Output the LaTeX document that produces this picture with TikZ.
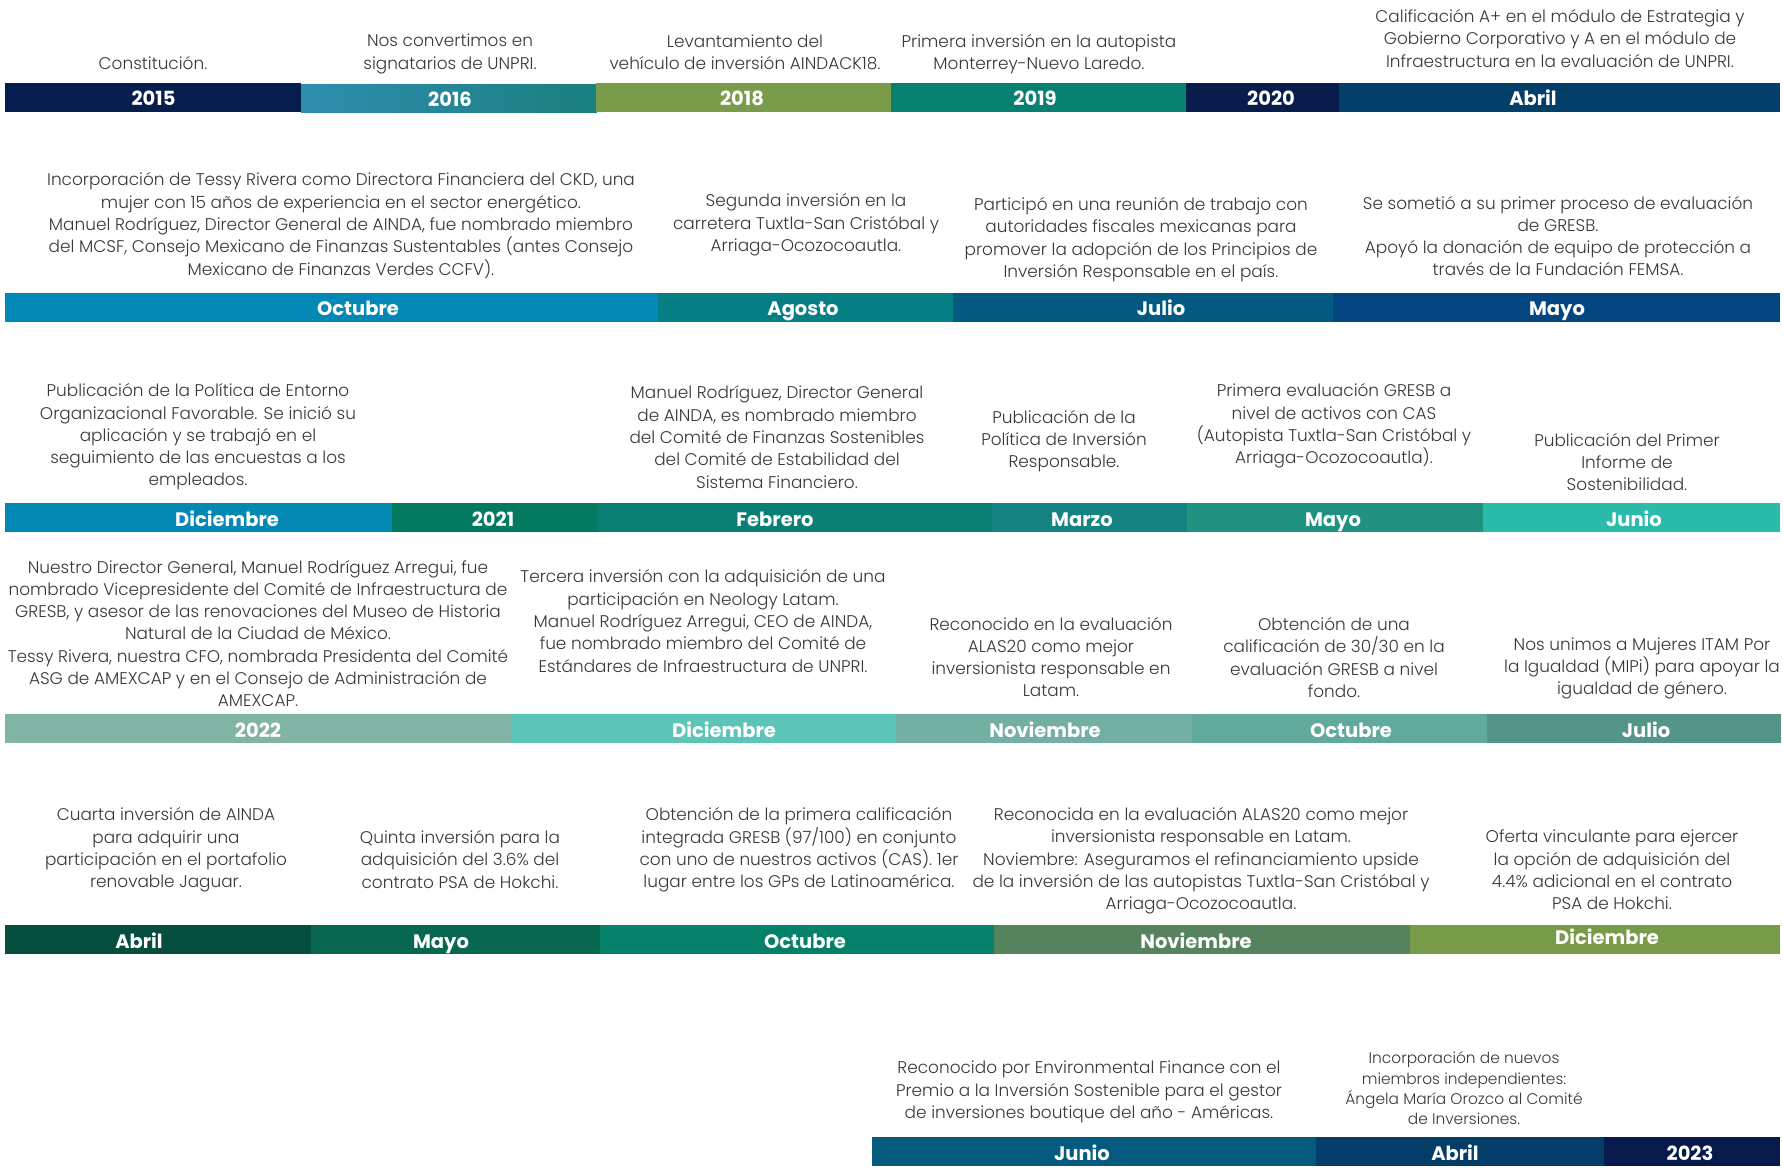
\documentclass[tikz,border=0pt]{standalone}
\usepackage{fontspec}
\setmainfont{Poppins Light}
\newfontfamily\labfont{Poppins Bold}
\definecolor{txt}{HTML}{383838}
\definecolor{cA}{HTML}{061E4D}
\definecolor{cBa}{HTML}{2F8DAF}
\definecolor{cBb}{HTML}{1A7F7E}
\definecolor{cC}{HTML}{7A9B4A}
\definecolor{cD}{HTML}{08806F}
\definecolor{cE}{HTML}{071C4B}
\definecolor{cF}{HTML}{043F6A}
\definecolor{rOct}{HTML}{0388B5}
\definecolor{rAgo}{HTML}{067F84}
\definecolor{rJul}{HTML}{03597F}
\definecolor{rMay}{HTML}{034581}
\definecolor{sDic}{HTML}{0388B4}
\definecolor{sVI}{HTML}{03795F}
\definecolor{sFeb}{HTML}{097F74}
\definecolor{sMar}{HTML}{148381}
\definecolor{sMay}{HTML}{219280}
\definecolor{sJun}{HTML}{2BBBAB}
\definecolor{uVII}{HTML}{82B4A6}
\definecolor{uDic}{HTML}{5DC5B8}
\definecolor{uNov}{HTML}{74B0A1}
\definecolor{uOct}{HTML}{62AA9B}
\definecolor{uJul}{HTML}{539586}
\definecolor{vAbr}{HTML}{054D3C}
\definecolor{vMay}{HTML}{08684F}
\definecolor{vOct}{HTML}{05816A}
\definecolor{vNov}{HTML}{55835D}
\definecolor{vDic}{HTML}{789B49}
\definecolor{wJun}{HTML}{045B7F}
\definecolor{wAbr}{HTML}{033E68}
\definecolor{wIII}{HTML}{071A4B}
\tikzset{
  barseg/.style={rectangle, inner sep=0pt, outer sep=0pt, minimum height=29pt},
  barlab/.style={anchor=base, inner sep=0pt, text=white,
    font=\labfont\fontsize{19.5}{22}\selectfont},
  evtext/.style={align=center, inner sep=0pt, text=txt,
    font=\fontsize{16.9}{22.3}\selectfont},
  evsmall/.style={align=center, inner sep=0pt, text=txt,
    font=\fontsize{15.4}{20.3}\selectfont}
}
\begin{document}
\begin{tikzpicture}[x=1pt,y=-1pt]
\useasboundingbox[fill=white] (0,0) rectangle (1783,1169);
% ---------- Row 1 ----------
\node[barseg, fill=cA, minimum width=296pt] (b1a) at (153,97.5) {};
\foreach \i in {0,...,58} {
  \pgfmathsetmacro{\pct}{\i*100/58}
  \fill[cBb!\pct!cBa] (301+5*\i,84.5) rectangle (306.6+5*\i,113.5);
}
\coordinate (b1b) at (448.5,99);
\node[barseg, fill=cC, minimum width=295pt] (b1c) at (743.5,97.5) {};
\node[barseg, fill=cD, minimum width=295pt] (b1d) at (1038.5,97.5) {};
\node[barseg, fill=cE, minimum width=153pt] (b1e) at (1262.5,97.5) {};
\node[barseg, fill=cF, minimum width=441pt] (b1f) at (1559.5,97.5) {};
\node[barlab] (l1a) at (153.5,106) {2015};
\node[barlab] (l1b) at (450,107) {2016};
\node[barlab] (l1c) at (742,106) {2018};
\node[barlab] (l1d) at (1035,106) {2019};
\node[barlab] (l1e) at (1271,106) {2020};
\node[barlab] (l1f) at (1533,106) {Abril};
\node[evtext] (t1a) at (153,63.5) {Constitución.};
\node[evtext] (t1b) at (450,54) {Nos convertimos en\\signatarios de UNPRI.};
\node[evtext] (t1c) at (745,52) {Levantamiento del\\vehículo de inversión AINDACK18.};
\node[evtext] (t1d) at (1039,54) {Primera inversión en la autopista\\Monterrey-Nuevo Laredo.};
\node[evtext] (t1f) at (1560,38.5) {Calificación A+ en el módulo de Estrategia y\\Gobierno Corporativo y A en el módulo de\\Infraestructura en la evaluación de UNPRI.};
% ---------- Row 2 ----------
\node[barseg, fill=rOct, minimum width=653pt] (b2a) at (331.5,307.5) {};
\node[barseg, fill=rAgo, minimum width=295pt] (b2b) at (805.5,307.5) {};
\node[barseg, fill=rJul, minimum width=380pt] (b2c) at (1143,307.5) {};
\node[barseg, fill=rMay, minimum width=447pt] (b2d) at (1556.5,307.5) {};
\node[barlab] (l2a) at (358,315) {Octubre};
\node[barlab] (l2b) at (803,315) {Agosto};
\node[barlab] (l2c) at (1161,315) {Julio};
\node[barlab] (l2d) at (1557,315) {Mayo};
\node[evtext] (t2a) at (341,225.5) {Incorporación de Tessy Rivera como Directora Financiera del CKD, una\\mujer con 15 años de experiencia en el sector energético.\\Manuel Rodríguez, Director General de AINDA, fue nombrado miembro\\del MCSF, Consejo Mexicano de Finanzas Sustentables (antes Consejo\\Mexicano de Finanzas Verdes CCFV).};
\node[evtext] (t2b) at (806,225) {Segunda inversión en la\\carretera Tuxtla-San Cristóbal y\\Arriaga-Ocozocoautla.};
\node[evtext] (t2c) at (1141,239.5) {Participó en una reunión de trabajo con\\autoridades fiscales mexicanas para\\promover la adopción de los Principios de\\Inversión Responsable en el país.};
\node[evtext] (t2d) at (1558,236) {Se sometió a su primer proceso de evaluación\\de GRESB.\\Apoyó la donación de equipo de protección a\\través de la Fundación FEMSA.};
% ---------- Row 3 ----------
\node[barseg, fill=sDic, minimum width=387pt] (b3a) at (198.5,517.5) {};
\node[barseg, fill=sVI, minimum width=206pt] (b3b) at (495,517.5) {};
\node[barseg, fill=sFeb, minimum width=394pt] (b3c) at (795,517.5) {};
\node[barseg, fill=sMar, minimum width=195pt] (b3d) at (1089.5,517.5) {};
\node[barseg, fill=sMay, minimum width=296pt] (b3e) at (1335,517.5) {};
\node[barseg, fill=sJun, minimum width=297pt] (b3f) at (1631.5,517.5) {};
\node[barlab] (l3a) at (227,526) {Diciembre};
\node[barlab] (l3b) at (493,526) {2021};
\node[barlab] (l3c) at (775,526) {Febrero};
\node[barlab] (l3d) at (1082,526) {Marzo};
\node[barlab] (l3e) at (1333,526) {Mayo};
\node[barlab] (l3f) at (1634,526) {Junio};
\node[evtext] (t3a) at (198,437) {Publicación de la Política de Entorno\\Organizacional Favorable. Se inició su\\aplicación y se trabajó en el\\seguimiento de las encuestas a los\\empleados.};
\node[evtext] (t3c) at (777,437) {Manuel Rodríguez, Director General\\de AINDA, es nombrado miembro\\del Comité de Finanzas Sostenibles\\del Comité de Estabilidad del\\Sistema Financiero.};
\node[evtext] (t3d) at (1064,441) {Publicación de la\\Política de Inversión\\Responsable.};
\node[evtext] (t3e) at (1334,426) {Primera evaluación GRESB a\\nivel de activos con CAS\\(Autopista Tuxtla-San Cristóbal y\\Arriaga-Ocozocoautla).};
\node[evtext] (t3f) at (1627,462) {Publicación del Primer\\Informe de\\Sostenibilidad.};
% ---------- Row 4 ----------
\node[barseg, fill=uVII, minimum width=506pt] (b4a) at (258,728.5) {};
\node[barseg, fill=uDic, minimum width=385pt] (b4b) at (703.5,728.5) {};
\node[barseg, fill=uNov, minimum width=296pt] (b4c) at (1044,728.5) {};
\node[barseg, fill=uOct, minimum width=295pt] (b4d) at (1339.5,728.5) {};
\node[barseg, fill=uJul, minimum width=294pt] (b4e) at (1634,728.5) {};
\node[barlab] (l4a) at (258,737) {2022};
\node[barlab] (l4b) at (724,737) {Diciembre};
\node[barlab] (l4c) at (1045,737) {Noviembre};
\node[barlab] (l4d) at (1351,737) {Octubre};
\node[barlab] (l4e) at (1646,737) {Julio};
\node[evtext] (t4a) at (258,633.5) {Nuestro Director General, Manuel Rodríguez Arregui, fue\\nombrado Vicepresidente del Comité de Infraestructura de\\GRESB, y asesor de las renovaciones del Museo de Historia\\Natural de la Ciudad de México.\\Tessy Rivera, nuestra CFO, nombrada Presidenta del Comité\\ASG de AMEXCAP y en el Consejo de Administración de\\AMEXCAP.};
\node[evtext] (t4b) at (703,621) {Tercera inversión con la adquisición de una\\participación en Neology Latam.\\Manuel Rodríguez Arregui, CEO de AINDA,\\fue nombrado miembro del Comité de\\Estándares de Infraestructura de UNPRI.};
\node[evtext] (t4c) at (1051,657) {Reconocido en la evaluación\\ALAS20 como mejor\\inversionista responsable en\\Latam.};
\node[evtext] (t4d) at (1334,657.5) {Obtención de una\\calificación de 30/30 en la\\evaluación GRESB a nivel\\fondo.};
\node[evtext] (t4e) at (1642,668.5) {Nos unimos a Mujeres ITAM Por\\la Igualdad (MIPi) para apoyar la\\igualdad de género.};
% ---------- Row 5 ----------
\node[barseg, fill=vAbr, minimum width=306pt] (b5a) at (158,939.5) {};
\node[barseg, fill=vMay, minimum width=289pt] (b5b) at (455.5,939.5) {};
\node[barseg, fill=vOct, minimum width=394pt] (b5c) at (797,939.5) {};
\node[barseg, fill=vNov, minimum width=417pt] (b5d) at (1202.5,939.5) {};
\node[barseg, fill=vDic, minimum width=370pt] (b5e) at (1595,939.5) {};
\node[barlab] (l5a) at (139,948) {Abril};
\node[barlab] (l5b) at (441,948) {Mayo};
\node[barlab] (l5c) at (805,948) {Octubre};
\node[barlab] (l5d) at (1196,948) {Noviembre};
\node[barlab] (l5e) at (1607,944) {Diciembre};
\node[evtext] (t5a) at (166,850) {Cuarta inversión de AINDA\\para adquirir una\\participación en el portafolio\\renovable Jaguar.};
\node[evtext] (t5b) at (460,859.5) {Quinta inversión para la\\adquisición del 3.6\% del\\contrato PSA de Hokchi.};
\node[evtext] (t5c) at (799,850) {Obtención de la primera calificación\\integrada GRESB (97/100) en conjunto\\con uno de nuestros activos (CAS). 1er\\lugar entre los GPs de Latinoamérica.};
\node[evtext] (t5d) at (1201,861) {Reconocida en la evaluación ALAS20 como mejor\\inversionista responsable en Latam.\\Noviembre: Aseguramos el refinanciamiento upside\\de la inversión de las autopistas Tuxtla-San Cristóbal y\\Arriaga-Ocozocoautla.};
\node[evtext] (t5e) at (1612,870) {Oferta vinculante para ejercer\\la opción de adquisición del\\4.4\% adicional en el contrato\\PSA de Hokchi.};
% ---------- Row 6 ----------
\node[barseg, fill=wJun, minimum width=444pt] (b6a) at (1094,1151.5) {};
\node[barseg, fill=wAbr, minimum width=288pt] (b6b) at (1460,1151.5) {};
\node[barseg, fill=wIII, minimum width=176pt] (b6c) at (1692,1151.5) {};
\node[barlab] (l6a) at (1082,1160) {Junio};
\node[barlab] (l6b) at (1455,1160) {Abril};
\node[barlab] (l6c) at (1690,1160) {2023};
\node[evtext] (t6a) at (1089,1092) {Reconocido por Environmental Finance con el\\Premio a la Inversión Sostenible para el gestor\\de inversiones boutique del año - Américas.};
\node[evsmall] (t6b) at (1464,1088.5) {Incorporación de nuevos\\miembros independientes:\\Ángela María Orozco al Comité\\de Inversiones.};
\end{tikzpicture}
\end{document}
